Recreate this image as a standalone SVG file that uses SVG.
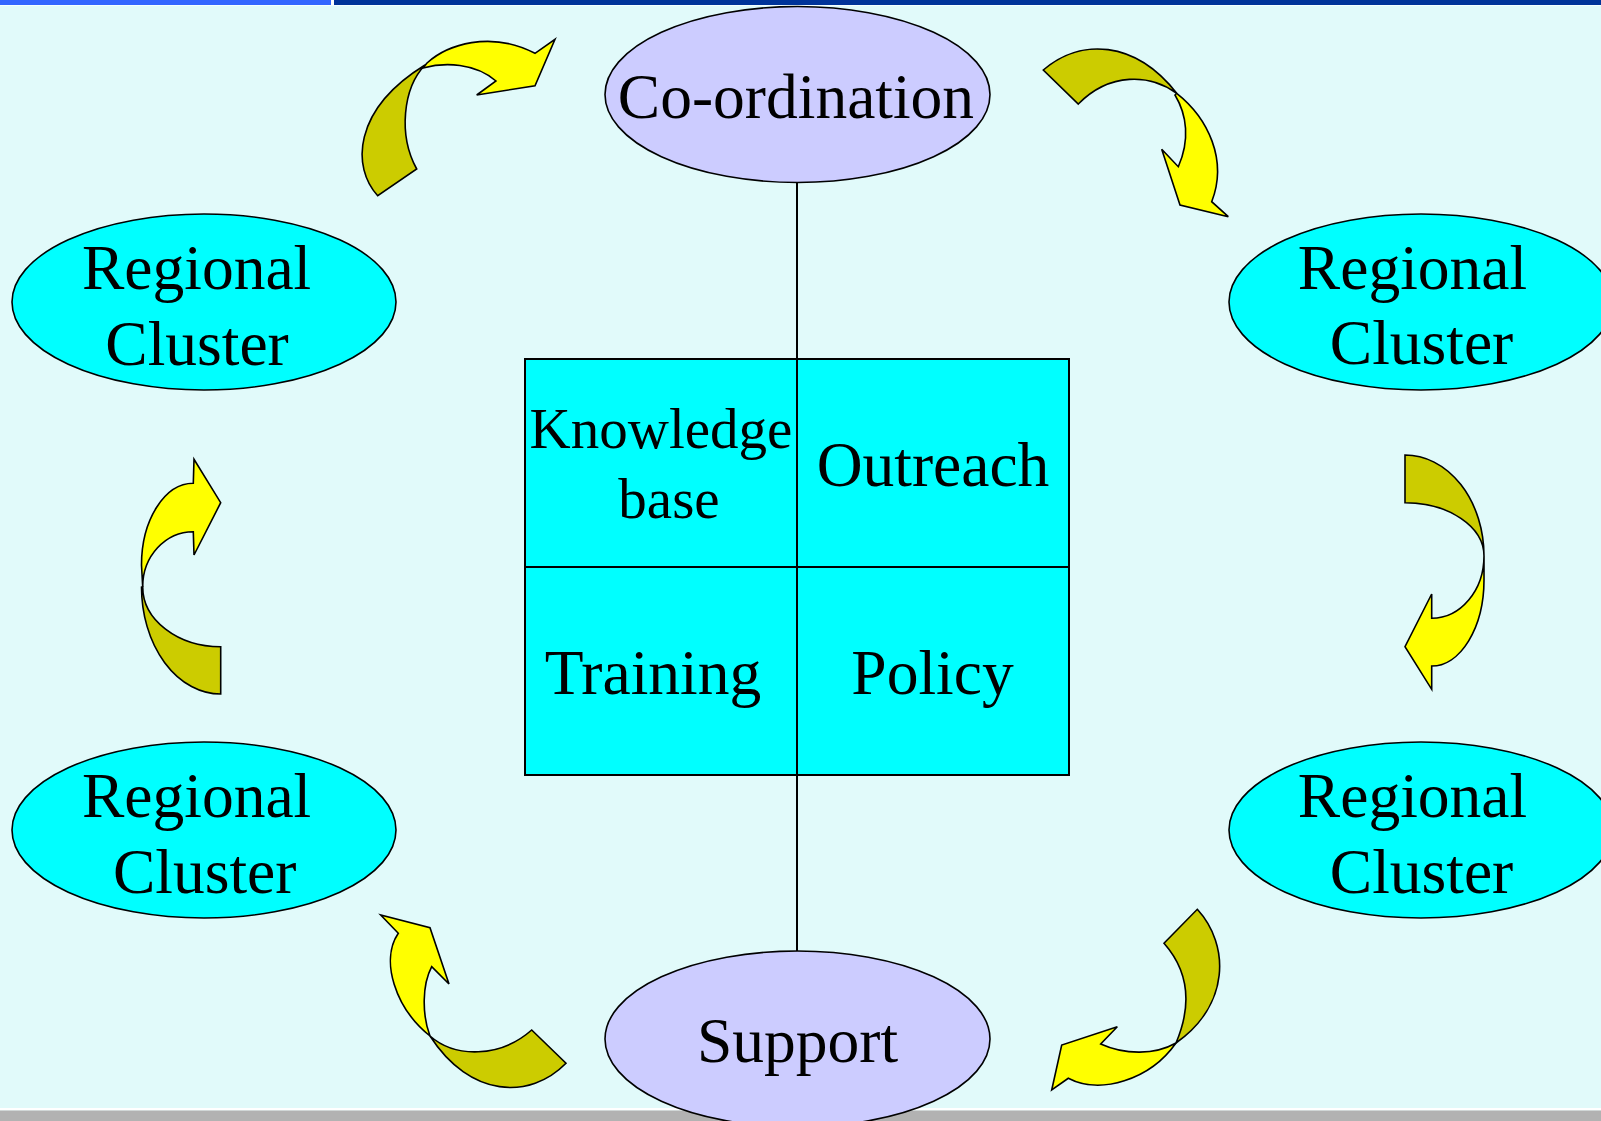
<svg xmlns="http://www.w3.org/2000/svg" width="1601" height="1121" viewBox="0 0 1601 1121">
<style>
.t{font-family:"Liberation Serif","Times New Roman",serif;font-size:63.5px;fill:#000;text-anchor:middle}
.k{font-size:57px}
.lav{fill:#CCCCFF;stroke:#000;stroke-width:1.6}
.cyan{fill:#00FFFF;stroke:#000;stroke-width:1.6}
.dk{fill:#CCCC00;stroke:#000;stroke-width:1.6;stroke-linejoin:miter}
.yl{fill:#FFFF00;stroke:#000;stroke-width:1.6;stroke-linejoin:miter}
.ln{stroke:#000;stroke-width:2;fill:none}
</style>
<rect x="0" y="0" width="1601" height="1121" fill="#E1FAFA"/>
<rect x="0" y="0" width="331" height="5" fill="#3366FF"/>
<rect x="331" y="0" width="3" height="6" fill="#FFFFFF"/>
<rect x="334" y="0" width="1267" height="5" fill="#003399"/>
<rect x="0" y="5" width="1601" height="1" fill="#F4FFFF"/>
<rect x="0" y="1108" width="1601" height="2.5" fill="#FFFFFF"/>
<rect x="0" y="1110.5" width="1601" height="10.5" fill="#B2B2B2"/>

<g id="connectors">
<line class="ln" x1="797" y1="182" x2="797" y2="359"/>
<line class="ln" x1="797" y1="775" x2="797" y2="951"/>
</g>

<g id="node-center">
<rect x="525" y="359" width="544" height="416" fill="#00FFFF" stroke="#000" stroke-width="2"/>
<line class="ln" x1="797" y1="359" x2="797" y2="775"/>
<line class="ln" x1="525" y1="567" x2="1069" y2="567"/>
<text class="t k" x="661" y="448">Knowledge</text>
<text class="t k" x="669" y="518">base</text>
<text class="t" x="933" y="486">Outreach</text>
<text class="t" x="653" y="694">Training</text>
<text class="t" x="932.5" y="694">Policy</text>
</g>

<g id="node-coordination">
<ellipse class="lav" cx="797.5" cy="94.5" rx="192.5" ry="88"/>
<text class="t" x="796" y="118">Co-ordination</text>
</g>

<g id="node-support">
<ellipse class="lav" cx="797.5" cy="1039" rx="192.5" ry="88"/>
<text class="t" x="797.5" y="1062">Support</text>
</g>

<g id="node-regional-tl">
<ellipse class="cyan" cx="204" cy="302" rx="192" ry="88"/>
<text class="t" x="196.6" y="289">Regional</text>
<text class="t" x="197" y="364.5">Cluster</text>
</g>

<g id="node-regional-tr">
<ellipse class="cyan" cx="1421" cy="302" rx="192" ry="88"/>
<text class="t" x="1412.5" y="288.5">Regional</text>
<text class="t" x="1421.5" y="364">Cluster</text>
</g>

<g id="node-regional-bl">
<ellipse class="cyan" cx="204" cy="830" rx="192" ry="88"/>
<text class="t" x="196.6" y="817">Regional</text>
<text class="t" x="204.7" y="893">Cluster</text>
</g>

<g id="node-regional-br">
<ellipse class="cyan" cx="1421" cy="830" rx="192" ry="88"/>
<text class="t" x="1412.5" y="817">Regional</text>
<text class="t" x="1421.5" y="893">Cluster</text>
</g>

<g id="arrows">
<!-- top-left -->
<path class="dk" d="M377.7,195.7 C352,168 352,110 425,65 C403,88 398,135 416.7,169 Z"/>
<path class="yl" d="M423,68 L427,63 C447,45 490,30 535,53.3 L555,39.3 L535,85.7 L476.7,95 L496,81 C475,63 445,62 423,68 Z"/>
<!-- top-right -->
<path class="dk" d="M1043.3,70 C1080,38 1135,40 1176.7,93.3 C1150,74 1110,72 1078.3,104 Z"/>
<path class="yl" d="M1176.7,93.3 C1208,118 1228,160 1211.7,201.7 L1228.3,216.7 L1180,205 L1161.7,149.3 L1178.3,166.7 C1190,140 1187,115 1175,95 Z"/>
<!-- right middle -->
<path class="dk" d="M1405,455 A79,101 0 0 1 1484,556 A79,53.3 0 0 0 1405,502.7 Z"/>
<path class="yl" d="M1484,556 L1484,580 A52.3,86 0 0 1 1431.7,666 L1431.7,689.3 L1405,646.7 L1431.7,594 L1431.7,618.3 A52.3,62.3 0 0 0 1484,556 Z"/>
<!-- bottom-right -->
<path class="dk" d="M1197.3,909.3 C1230,945 1230,1005 1176,1043 C1190,1010 1192,975 1164,943.3 Z"/>
<path class="yl" d="M1176,1043 C1150,1080 1100,1095 1068.3,1078.3 L1051.7,1090 L1061.7,1045 L1117.3,1026.7 L1100.7,1044 C1125,1055 1155,1055 1176,1043 Z"/>
<!-- bottom-left -->
<path class="dk" d="M566,1063.3 C530,1100 470,1098 430,1036 C455,1058 500,1058 531.7,1030 Z"/>
<path class="yl" d="M430,1036 C395,1008 380,960 398.3,933.3 L380.7,915 L430,927.7 L449,984 L431.7,966.7 C422,985 422,1015 430,1036 Z"/>
<!-- left middle -->
<path class="dk" d="M141.5,587 A79.2,107 0 0 0 220.7,694 L220.7,646.7 A78,60 0 0 1 142.7,586.7 Z"/>
<path class="yl" d="M142.7,586.7 L141.5,565 A51.8,81.7 0 0 1 193.3,483.3 L194,459.3 L220.7,502.7 L194,555 L193.3,531.7 A50.6,55 0 0 0 142.7,586.7 Z"/>
</g>
</svg>
